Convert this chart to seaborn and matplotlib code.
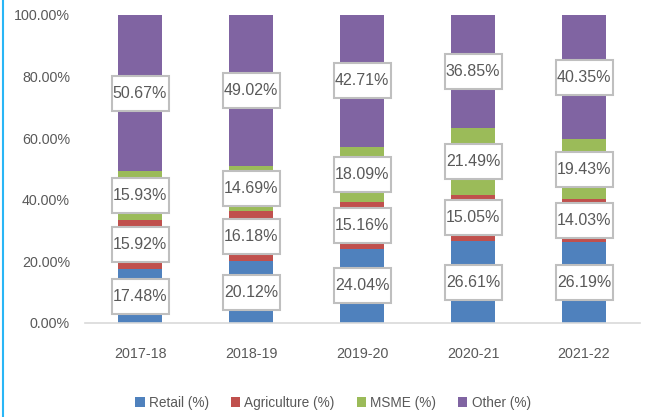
import numpy as np
import pandas as pd
import matplotlib
matplotlib.use("Agg")
import matplotlib.pyplot as plt
import matplotlib.transforms as mtransforms
from matplotlib.patches import Rectangle, Patch
from matplotlib.lines import Line2D
import seaborn as sns

years = ["2017-18", "2018-19", "2019-20", "2020-21", "2021-22"]
retail = [17.48, 20.12, 24.04, 26.61, 26.19]
agriculture = [15.92, 16.18, 15.16, 15.05, 14.03]
msme = [15.93, 14.69, 18.09, 21.49, 19.43]
other = [50.67, 49.02, 42.71, 36.85, 40.35]
series_names = ["Retail (%)", "Agriculture (%)", "MSME (%)", "Other (%)"]
colors = ["#4F81BD", "#C0504D", "#9BBB59", "#8064A2"]

sns.set_theme(style="white")
plt.rcParams["font.family"] = ["Liberation Sans", "DejaVu Sans"]
text_color = "#595959"

df = pd.DataFrame({"year": years, "Retail (%)": retail, "Agriculture (%)": agriculture,
                   "MSME (%)": msme, "Other (%)": other})
vals = df[series_names].to_numpy()
cum = np.cumsum(vals, axis=1)
bottoms = cum - vals

fig = plt.figure(figsize=(6.46, 4.17), dpi=100)
ax = fig.add_axes([84.5 / 646, 94 / 417, 555 / 646, 308 / 417])

# draw cumulative bars from tallest to shortest so they stack visually
for i in range(len(series_names) - 1, -1, -1):
    sns.barplot(x=df["year"], y=cum[:, i], color=colors[i], width=0.4,
                saturation=1, ax=ax, linewidth=0)

ax.set_ylim(0, 100)
ax.set_xlim(-0.5, len(years) - 0.5)
ax.set_yticks([0, 20, 40, 60, 80, 100])
ax.set_yticklabels([f"{v:.2f}%" for v in [0, 20, 40, 60, 80, 100]])
ax.set_xlabel("")
ax.set_ylabel("")
for s in ["top", "right", "left"]:
    ax.spines[s].set_visible(False)
ax.spines["bottom"].set_color("#D9D9D9")
ax.spines["bottom"].set_linewidth(1.2)
ax.tick_params(axis="both", length=0, labelsize=10.3, colors=text_color)
ax.tick_params(axis="y", pad=10.5)
ax.tick_params(axis="x", pad=17)

# data labels in boxes
bw, bh = 57, 35
for j in range(len(years)):
    for i in range(len(series_names)):
        yc = bottoms[j, i] + vals[j, i] / 2
        tr = mtransforms.ScaledTranslation(j, yc, ax.transData)
        tr = mtransforms.IdentityTransform() + tr
        ax.add_patch(Rectangle((-bw / 2, -bh / 2), bw, bh, transform=tr,
                               facecolor="white", edgecolor="#BFBFBF",
                               linewidth=1.5, zorder=5, clip_on=False))
        ax.text(j, yc, f"{vals[j, i]:.2f}%", ha="center", va="center",
                fontsize=11.5, color=text_color, zorder=6)

handles = [Patch(facecolor=c, edgecolor="none") for c in colors]
fig.legend(handles, series_names, loc="center", bbox_to_anchor=(333 / 646, 1 - 403 / 417),
           ncol=4, frameon=False, fontsize=9.8, labelcolor=text_color,
           handlelength=0.7, handleheight=0.7, handletextpad=0.3, columnspacing=1.6)

fig.add_artist(Line2D([2.5 / 646, 2.5 / 646], [0, 1], color="#29B6F6", linewidth=1.5,
                      transform=fig.transFigure))

fig.savefig("out.png", dpi=100)
